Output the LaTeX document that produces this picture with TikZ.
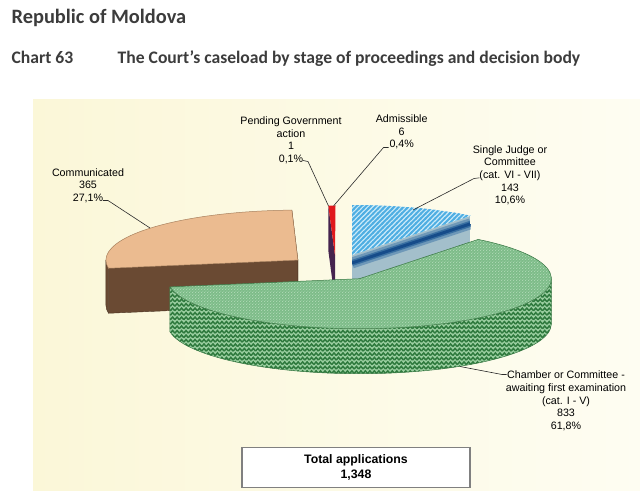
\documentclass[tikz,border=0pt]{standalone}
\usepackage{fontspec}
\setmainfont{Liberation Sans}
\newfontfamily\titlefont{Carlito}
\usetikzlibrary{patterns,calc}

\definecolor{cream}{HTML}{FBF7D8}
\definecolor{creamR}{HTML}{FEFDF2}
\definecolor{tantop}{HTML}{EBBB90}
\definecolor{tanedge}{HTML}{A9815E}
\definecolor{brownside}{HTML}{6A4A33}
\definecolor{brownedge}{HTML}{4A3322}
\definecolor{gtopfill}{HTML}{7DBC88}
\definecolor{gdotcol}{HTML}{CFEBD2}
\definecolor{gsidefill}{HTML}{9BCFA1}
\definecolor{gdark}{HTML}{2F7A3E}
\definecolor{gedge}{HTML}{3A7845}
\definecolor{bluelight}{HTML}{CBEAF9}
\definecolor{bluestripe}{HTML}{4FAEE2}
\definecolor{bluegray}{HTML}{A3BFCB}
\definecolor{bluemid}{HTML}{6E98B8}
\definecolor{bluemid2}{HTML}{3A70A2}
\definecolor{bluedark}{HTML}{164C8A}
\definecolor{slred}{HTML}{E0181C}
\definecolor{slpurple}{HTML}{45234E}
\definecolor{titlegray}{HTML}{3C3C3C}
\definecolor{leadercol}{HTML}{2A2A2A}
\definecolor{boxedge}{HTML}{808080}

\pgfdeclarepatternformonly{chevrons}{\pgfpoint{-0.8pt}{-0.8pt}}{\pgfpoint{5.3pt}{5.3pt}}{\pgfpoint{4.5pt}{4.5pt}}{%
  \pgfsetlinewidth{1.5pt}%
  \pgfpathmoveto{\pgfpoint{0pt}{0.9pt}}%
  \pgfpathlineto{\pgfpoint{2.25pt}{3.6pt}}%
  \pgfpathlineto{\pgfpoint{4.5pt}{0.9pt}}%
  \pgfusepath{stroke}}
\pgfdeclarepatternformonly{gdots}{\pgfpointorigin}{\pgfpoint{3.2pt}{3.2pt}}{\pgfpoint{3.2pt}{3.2pt}}{%
  \pgfpathcircle{\pgfpoint{0.8pt}{0.8pt}}{0.6pt}%
  \pgfpathcircle{\pgfpoint{2.4pt}{2.4pt}}{0.6pt}%
  \pgfusepath{fill}}
\pgfdeclarepatternformonly{bstripes}{\pgfpoint{-1pt}{-1pt}}{\pgfpoint{5.8pt}{5.8pt}}{\pgfpoint{4.8pt}{4.8pt}}{%
  \pgfsetlinewidth{1.9pt}%
  \pgfpathmoveto{\pgfpoint{-1pt}{-1pt}}\pgfpathlineto{\pgfpoint{5.8pt}{5.8pt}}%
  \pgfusepath{stroke}}

\tikzset{
  lbl/.style={align=center, inner sep=0pt, text=black,
    font=\fontsize{10.7bp}{12.6bp}\selectfont},
  leader/.style={draw=leadercol, line width=0.6bp},
  titletxt/.style={anchor=base west, inner sep=0pt, text=titlegray},
  ell/.style={x radius=192, y radius=50}
}

\begin{document}
\begin{tikzpicture}[x=1bp,y=-1bp]
\useasboundingbox (0,0) rectangle (640,491);
\fill[white] (0,0) rectangle (640,491);
\shade[left color=cream, right color=creamR] (33,100) rectangle (640,491);

% titles
\node[titletxt, font=\titlefont\bfseries\fontsize{20.4bp}{24bp}\selectfont] (country) at (11.4,23.3) {Republic of Moldova};
\node[titletxt, font=\titlefont\bfseries\fontsize{17.6bp}{20bp}\selectfont] (chartno) at (11.4,63.3) {Chart 63};
\node[titletxt, font=\titlefont\bfseries\fontsize{17.6bp}{20bp}\selectfont] (charttitle) at (117.5,63.3) {The Court’s caseload by stage of proceedings and decision body};

% ---------- blue slice (Single Judge), centre (352,255), 51.8 -> 90
\coordinate (Bc) at (352,255);
\coordinate (Bp) at ({352+192*cos(51.8)},{255-50*sin(51.8)});
\begin{scope}
  \clip (Bc) -- (Bp) -- ($(Bp)+(0,45)$) -- ($(Bc)+(0,45)$) -- cycle;
  \fill[bluegray] (Bc) -- (Bp) -- ($(Bp)+(0,45)$) -- ($(Bc)+(0,45)$) -- cycle;
  \draw[bluemid, line width=11] ($(Bc)+(0,8)$) -- ($(Bp)+(0,8)$);
  \draw[bluemid2, line width=6] ($(Bc)+(0,8)$) -- ($(Bp)+(0,8)$);
  \draw[bluedark, line width=3] ($(Bc)+(0,8)$) -- ($(Bp)+(0,8)$);
\end{scope}
\path[fill=bluelight, postaction={pattern=bstripes, pattern color=bluestripe}]
  (Bc) -- (352,205) arc[start angle=-90, end angle=-51.8, ell] -- cycle;

% ---------- thin slices (Pending / Admissible), centre (335,255.5)
\coordinate (Sc) at (335,255.5);
\coordinate (Sp) at ({335+192*cos(92)},{255.5-50*sin(92)});
\fill[slpurple] (Sc) -- (Sp) -- ($(Sp)+(0,45)$) -- ($(Sc)+(0,45)$) -- cycle;
\fill[slred] (Sc) -- (335.5,205.5) arc[start angle=-89.85, end angle=-92, ell] -- cycle;

% ---------- Communicated, centre (297.9,260.1), 91.8 -> 189.4
\coordinate (Cc) at (297.9,260.1);
\coordinate (Cb) at ({297.9+192*cos(91.8)},{260.1-50*sin(91.8)});
\coordinate (Cf) at ({297.9+192*cos(189.4)},{260.1-50*sin(189.4)});
\filldraw[fill=brownside, draw=brownedge, line width=0.4bp, line join=round]
  (Cc) -- (Cb) -- ($(Cb)+(0,45)$) -- ($(Cc)+(0,45)$) -- cycle;
\filldraw[fill=brownside, draw=brownedge, line width=0.4bp, line join=round]
  (Cc) -- (Cf) -- ($(Cf)+(0,45)$) -- ($(Cc)+(0,45)$) -- cycle;
\filldraw[fill=brownside, draw=brownedge, line width=0.4bp, line join=round]
  (105.9,260.1) arc[start angle=-180, end angle=-189.4, ell] -- ++(0,45)
  arc[start angle=-189.4, end angle=-180, ell] -- cycle;
\filldraw[fill=tantop, draw=tanedge, line width=0.5bp, line join=round]
  (Cc) -- (Cb) arc[start angle=-91.8, end angle=-189.4, ell] -- cycle;

% ---------- Chamber or Committee, centre (359.4,278.7), -170.6 -> 51.8
\coordinate (Gc) at (359.4,278.7);
\coordinate (Gb) at ({359.4+192*cos(51.8)},{278.7-50*sin(51.8)});
\path[fill=gsidefill, postaction={pattern=chevrons, pattern color=gdark}]
  (551.4,278.7) arc[start angle=0, end angle=170.6, ell] -- ++(0,45)
  arc[start angle=170.6, end angle=0, ell] -- cycle;
\draw[gedge, line width=0.5bp, line join=round]
  (551.4,278.7) -- ++(0,45) arc[start angle=0, end angle=170.6, ell] -- ++(0,-45);
\path[fill=gtopfill, postaction={pattern=gdots, pattern color=gdotcol}]
  (Gc) -- (Gb) arc[start angle=-51.8, end angle=170.6, ell] -- cycle;
\draw[gedge, line width=0.5bp, line join=round]
  (Gc) -- (Gb) arc[start angle=-51.8, end angle=170.6, ell] -- cycle;

% ---------- labels
\node[lbl] (comm) at (88,185.7) {Communicated\\365\\27,1\%};
\node[lbl] (pend) at (291,140.5) {Pending Government\\action\\1\\0,1\%};
\node[lbl] (adm) at (401.7,132) {Admissible\\6\\0,4\%};
\node[lbl] (sj) at (510,175.3) {Single Judge or\\Committee\\(cat. VI - VII)\\143\\10,6\%};
\node[lbl] (ch) at (566,401) {Chamber or Committee -\\awaiting first examination\\(cat. I - V)\\833\\61,8\%};

% leader lines
\coordinate (commA) at (103,200.5);
\coordinate (commB) at (108,200.5);
\coordinate (commT) at (150,228);
\draw[leader] (commA) -- (commB) -- (commT);
\coordinate (pendA) at (303,160.5);
\coordinate (pendB) at (308,161.5);
\coordinate (pendT) at (328.5,206);
\draw[leader] (pendA) -- (pendB) -- (pendT);
\coordinate (admA) at (388.5,147.5);
\coordinate (admB) at (383.5,147.5);
\coordinate (admT) at (333.5,206);
\draw[leader] (admA) -- (admB) -- (admT);
\coordinate (sjA) at (479.5,177.8);
\coordinate (sjB) at (474,178.5);
\coordinate (sjT) at (413,210);
\draw[leader] (sjA) -- (sjB) -- (sjT);
\coordinate (chA) at (506.5,374.5);
\coordinate (chB) at (502,374.5);
\coordinate (chT) at (460,366.5);
\draw[leader] (chA) -- (chB) -- (chT);

% total box
\node[draw=boxedge, line width=1.2bp, fill=white, minimum width=228bp, minimum height=39.5bp,
  align=center, inner sep=0pt, font=\bfseries\fontsize{12.3bp}{14.4bp}\selectfont] (total)
  at (356,467.5) {Total applications\\1,348};
\end{tikzpicture}
\end{document}
